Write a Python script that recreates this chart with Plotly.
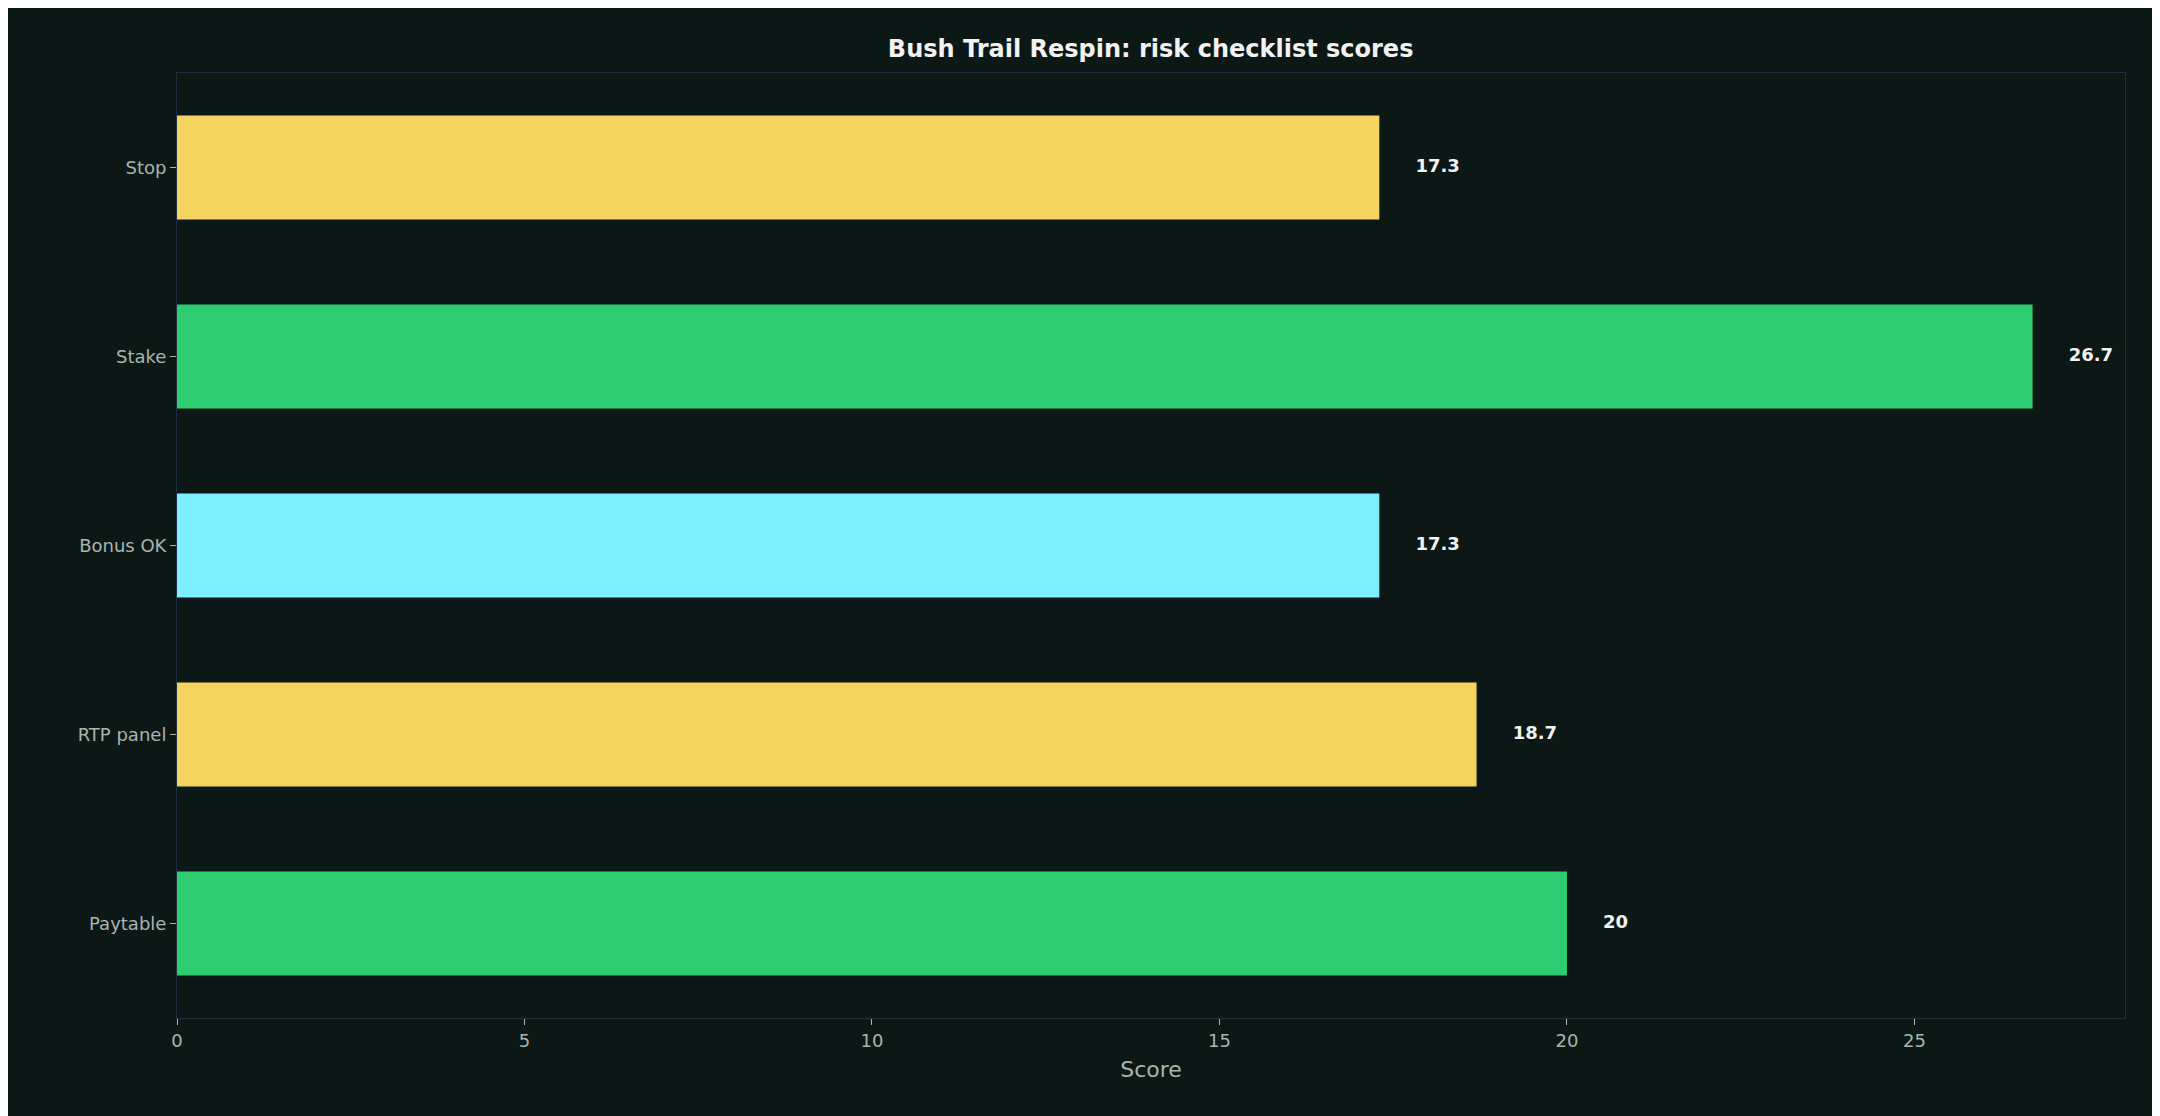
import plotly.graph_objects as go

categories = ["Paytable", "RTP panel", "Bonus OK", "Stake", "Stop"]
scores = [20, 18.7, 17.3, 26.7, 17.3]
labels = ["20", "18.7", "17.3", "26.7", "17.3"]
colors = ["#2ecc71", "#f4d35e", "#7beeff", "#2ecc71", "#f4d35e"]

bg = "#0b1816"
font = "DejaVu Sans"

fig = go.Figure()
fig.add_trace(go.Bar(
    x=scores, y=categories, orientation="h", width=0.55,
    marker=dict(color=colors, line=dict(width=0)),
    hoverinfo="skip", showlegend=False,
))
fig.add_trace(go.Scatter(
    x=[s + 0.52 for s in scores], y=categories, mode="text",
    text=labels, textposition="middle right",
    textfont=dict(family=font, size=18, color="#f2f2f2", weight="bold"),
    hoverinfo="skip", showlegend=False, cliponaxis=False,
))

fig.update_layout(
    width=2160, height=1116,
    paper_bgcolor=bg, plot_bgcolor=bg,
    margin=dict(l=169, r=43, t=65, b=106),
    font=dict(family=font, color="#a9b5b0", size=18),
    title=dict(text="<b>Bush Trail Respin: risk checklist scores</b>",
               x=0.529, xanchor="center", y=0.964, yanchor="middle",
               font=dict(family=font, size=24, color="#f2f2f2")),
    xaxis=dict(range=[0, 28.03], tickvals=[0, 5, 10, 15, 20, 25],
               showgrid=False, zeroline=False, ticks="outside", ticklen=6,
               tickcolor="#a9b5b0", showline=True, linecolor="#1e3040",
               mirror=True, title=dict(text="Score", standoff=12)),
    yaxis=dict(categoryorder="array", categoryarray=categories,
               range=[-0.5, 4.5], showgrid=False, zeroline=False,
               ticks="outside", ticklen=6, tickcolor="#a9b5b0",
               showline=True, linecolor="#1e3040", mirror=True),
)

fig.write_html("out.html")
